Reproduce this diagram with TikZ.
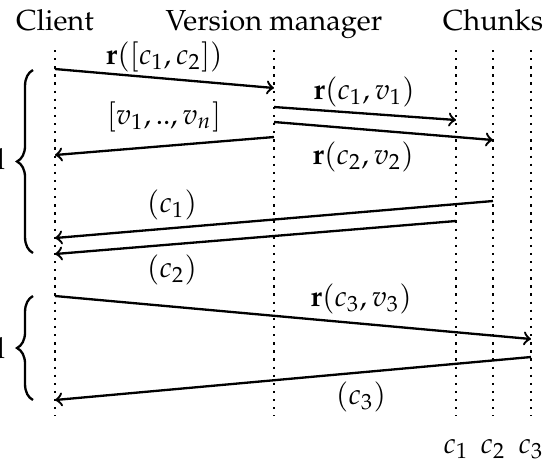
\documentclass[tikz,border=0pt]{standalone}
\usepackage[T1]{fontenc}
\usepackage{mathpazo}
\usetikzlibrary{decorations.pathreplacing}

\begin{document}
\begin{tikzpicture}[x=0.345pt, y=-0.345pt]

	% styles for all parts
	\tikzset{
		lifeline/.style={thick, dotted},
		msg/.style={thick, ->},
		group/.style={thick, decorate, decoration={brace, amplitude=5.5pt}},
	}

	\useasboundingbox (0,0) rectangle (555,462);

	% lifelines
	\foreach \name/\x in {client/55, vm/274, ca/456, cb/493, cc/531} {
		\coordinate (top-\name) at (\x,50);
		\coordinate (bot-\name) at (\x,416);
		\draw[lifeline] (top-\name) -- (bot-\name);
	}

	% headers
	\node[anchor=base] (clientlbl) at (55,30) {Client};
	\node[anchor=base] (vmlbl) at (274,30) {Version manager};
	\node[anchor=base] (chunkslbl) at (493,30) {Chunks};
	\node[anchor=base] (calbl) at (456,453) {$c_1$};
	\node[anchor=base] (cblbl) at (493,453) {$c_2$};
	\node[anchor=base] (cclbl) at (531,453) {$c_3$};

	% first round
	\draw[msg] (top-client |- 0,69) -- (top-vm |- 0,88);
	\node (req) at (164,57) {$\mathbf{r}([c_1,c_2])$};
	\draw[msg] (top-vm |- 0,107) -- (top-ca |- 0,120);
	\node (reqa) at (364,92) {$\mathbf{r}(c_1,v_1)$};
	\draw[msg] (top-vm |- 0,122) -- (top-cb |- 0,140);
	\node (reqb) at (363,157) {$\mathbf{r}(c_2,v_2)$};
	\draw[msg] (top-vm |- 0,137) -- (top-client |- 0,155);
	\node (vers) at (164,117) {$[v_1,..,v_n]$};
	\draw[msg] (top-cb |- 0,201) -- (top-client |- 0,238);
	\node (ansa) at (172,205) {$(c_1)$};
	\draw[msg] (top-ca |- 0,221) -- (top-client |- 0,254);
	\node (ansb) at (172,270) {$(c_2)$};

	% second round
	\draw[msg] (top-client |- 0,296) -- (top-cc |- 0,339);
	\node (reqc) at (361,299) {$\mathbf{r}(c_3,v_3)$};
	\draw[msg] (top-cc |- 0,357) -- (top-client |- 0,400);
	\node (ansc) at (361,397) {$(c_3)$};

	% braces
	\draw[group] (33,253) -- (33,70);
	\node[anchor=base east, inner sep=0pt] (firstlbl) at (6,169) {Read};
	\draw[group] (33,400) -- (33,296);
	\node[anchor=base east, inner sep=0pt] (secondlbl) at (6,358) {Read};

\end{tikzpicture}
\end{document}
